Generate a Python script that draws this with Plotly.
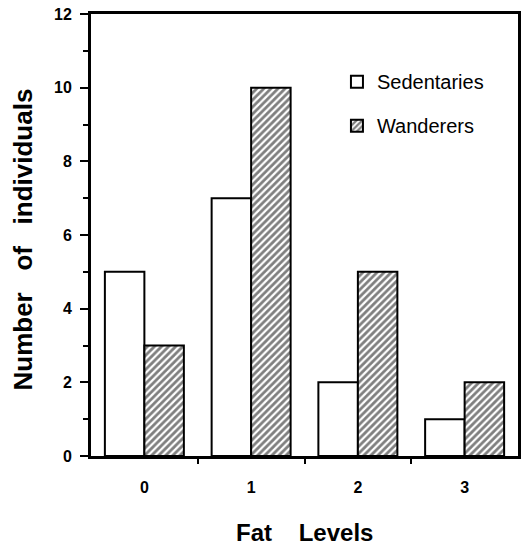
import plotly.graph_objects as go

categories = [0, 1, 2, 3]
tick_labels = ["0", "1", "2", "3"]
sedentaries = [5, 7, 2, 1]
wanderers = [3, 10, 5, 2]

FONT = "Liberation Sans, Arial, Helvetica, sans-serif"
NB = "\u00a0"

fig = go.Figure()
fig.add_trace(go.Bar(
    x=categories, y=sedentaries, name="Sedentaries", legendgroup="s",
    marker=dict(color="white", line=dict(color="black", width=2)),
))
fig.add_trace(go.Bar(
    x=categories, y=wanderers, name="Wanderers", legendgroup="w",
    marker=dict(color="white", line=dict(color="black", width=2),
                pattern=dict(shape="/", fgcolor="black", bgcolor="white",
                             size=5, solidity=0.55)),
))

fig.update_layout(
    width=525, height=548,
    margin=dict(l=91, r=7, t=14, b=92),
    paper_bgcolor="white", plot_bgcolor="white",
    barmode="group", bargap=0.26, bargroupgap=0,
    font=dict(family=FONT, color="black"),
    showlegend=True,
    legend=dict(x=0.576, y=0.891, xanchor="left", yanchor="top",
                bgcolor="rgba(0,0,0,0)", borderwidth=0,
                font=dict(size=20, family=FONT, color="black"),
                traceorder="grouped", tracegroupgap=15),
    xaxis=dict(
        range=[-0.5, 3.5], tickmode="array", tickvals=categories, ticktext=tick_labels,
        ticks="", showgrid=False, zeroline=False, automargin=False,
        showline=True, linecolor="black", linewidth=3, mirror=True,
        ticklabelstandoff=15,
        tickfont=dict(size=16, family=FONT, color="black", weight="bold"),
        minor=dict(tickmode="array", tickvals=[0.5, 1.5, 2.5], ticks="outside",
                   ticklen=5, tickwidth=2, tickcolor="black", showgrid=False),
    ),
    yaxis=dict(
        range=[0, 12], tickmode="linear", tick0=0, dtick=2,
        ticks="outside", ticklen=8, tickwidth=2, tickcolor="black",
        showgrid=False, zeroline=False, automargin=False,
        showline=True, linecolor="black", linewidth=3, mirror=True,
        ticklabelstandoff=5,
        tickfont=dict(size=16, family=FONT, color="black", weight="bold"),
        minor=dict(tickmode="linear", tick0=1, dtick=2, ticks="outside",
                   ticklen=5, tickwidth=2, tickcolor="black", showgrid=False),
    ),
    annotations=[
        dict(text="Fat" + NB * 4 + "Levels", xref="paper", yref="paper",
             x=0.5, y=-0.174, xanchor="center", yanchor="middle", showarrow=False,
             font=dict(size=24, family=FONT, color="black", weight="bold")),
        dict(text="Number" + NB * 3 + "of" + NB * 3 + "individuals",
             xref="paper", yref="paper", textangle=-90,
             x=-0.159, y=0.49, xanchor="center", yanchor="middle", showarrow=False,
             font=dict(size=26, family=FONT, color="black", weight="bold")),
    ],
)

fig.write_html("out.html", config={"displayModeBar": False},
               post_script="document.body.style.margin='0';")
